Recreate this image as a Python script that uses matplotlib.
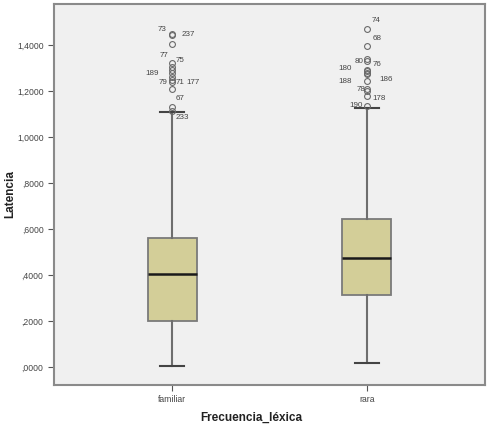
import matplotlib
matplotlib.use("Agg")
import matplotlib.pyplot as plt

# ---- data ----
categories = ["familiar", "rara"]
q1 = [0.200, 0.314]
median = [0.403, 0.473]
q3 = [0.560, 0.642]
whisker_low = [0.005, 0.017]
whisker_high = [1.107, 1.125]
fliers_familiar = [1.446, 1.444, 1.403, 1.320, 1.306, 1.291, 1.277, 1.262, 1.248, 1.240, 1.209, 1.132, 1.112]
fliers_rara = [1.470, 1.397, 1.338, 1.330, 1.292, 1.285, 1.279, 1.272, 1.245, 1.207, 1.200, 1.178, 1.135]
ytick_values = [0.0, 0.2, 0.4, 0.6, 0.8, 1.0, 1.2, 1.4]
ytick_labels = [",0000", ",2000", ",4000", ",6000", ",8000", "1,0000", "1,2000", "1,4000"]

# outlier case labels: (label, category index, value)
case_labels = ["73", "237", "77", "75", "189", "79", "71", "177", "67", "233",
               "74", "68", "80", "76", "180", "186", "188", "78", "178", "190"]
case_group = [0, 0, 0, 0, 0, 0, 0, 0, 0, 0,
              1, 1, 1, 1, 1, 1, 1, 1, 1, 1]
case_value = [1.446, 1.446, 1.320, 1.306, 1.277, 1.240, 1.240, 1.240, 1.132, 1.112,
              1.470, 1.397, 1.338, 1.330, 1.292, 1.279, 1.245, 1.207, 1.178, 1.135]
# label offsets in pixels (style/position only)
case_dx = [-10, 16, -8, 8, -20, -9, 8, 21, 8, 10,
           9, 10, -8, 10, -22, 19, -22, -6, 12, -11]
case_dy = [5, 0, 8, 6, 0, -1, -1, -1, 8, -6,
           8, 7, -2, -3, 1, -7, -1, 0, -2, 0]

fig = plt.figure(figsize=(4.9, 4.29), dpi=100)
ax = fig.add_axes([54/490, 44/429, (485-54)/490, (425-44)/429])
ax.set_facecolor("#F0F0F0")

stats = []
for i, cat in enumerate(categories):
    stats.append(dict(label=cat, q1=q1[i], med=median[i], q3=q3[i],
                      whislo=whisker_low[i], whishi=whisker_high[i],
                      fliers=[fliers_familiar, fliers_rara][i]))

positions = [1, 2]
ax.bxp(stats, positions=positions, widths=0.252, patch_artist=True,
       boxprops=dict(facecolor="#D3CE98", edgecolor="#7a7a7a", linewidth=1.3),
       medianprops=dict(color="#1a1a1a", linewidth=1.8),
       whiskerprops=dict(color="#6e6e6e", linewidth=1.5),
       capprops=dict(color="#444444", linewidth=1.5),
       flierprops=dict(marker="o", markersize=4.2, markerfacecolor="none",
                       markeredgecolor="#6a6a6a", markeredgewidth=0.8),
       capwidths=0.125)

for lab, g, v, dx, dy in zip(case_labels, case_group, case_value, case_dx, case_dy):
    ax.annotate(lab, xy=(positions[g], v), xytext=(dx, dy), textcoords="offset pixels",
                ha="center", va="center", fontsize=5.8, color="#444444",
                family="Liberation Sans")

ax.set_xlim(0.3915, 2.6085)
ax.set_ylim(-0.078, 1.578)
ax.set_xticks(positions)
ax.set_xticklabels(categories)
ax.set_yticks(ytick_values)
ax.set_yticklabels(ytick_labels)
ax.tick_params(axis="both", labelsize=6.2, colors="#555555", labelcolor="#444444",
               length=4, width=0.8)
for lbl in ax.get_xticklabels() + ax.get_yticklabels():
    lbl.set_family("Liberation Sans")

for s in ax.spines.values():
    s.set_color("#8a8a8a")
    s.set_linewidth(1.5)

ax.set_xlabel("Frecuencia_léxica", fontsize=8.5, fontweight="bold",
              family="Liberation Sans", color="#222222")
ax.set_ylabel("Latencia", fontsize=8.5, fontweight="bold",
              family="Liberation Sans", color="#222222")
ax.xaxis.set_label_coords((251 - 54) / 431, (429 - 412 - 44) / 381)
ax.yaxis.set_label_coords((16 - 54) / 431, (429 - 194 - 44) / 381)

fig.savefig("out.png", dpi=100, facecolor="white")
